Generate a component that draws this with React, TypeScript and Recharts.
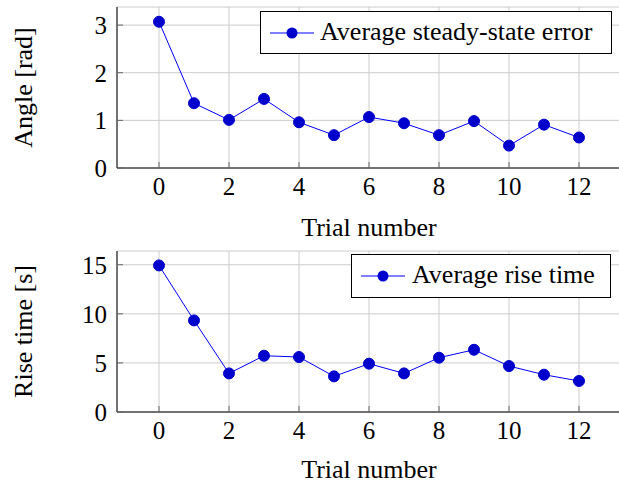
import { LineChart, Line, XAxis, YAxis, CartesianGrid, Legend } from 'recharts';

const trials = [0, 1, 2, 3, 4, 5, 6, 7, 8, 9, 10, 11, 12];
const steadyStateError = [3.07, 1.36, 1.01, 1.45, 0.96, 0.69, 1.07, 0.94, 0.69, 0.985, 0.47, 0.91, 0.64];
const riseTime = [14.93, 9.33, 3.93, 5.73, 5.6, 3.63, 4.92, 3.93, 5.53, 6.34, 4.68, 3.8, 3.16];

const xTicks = [0, 2, 4, 6, 8, 10, 12];
const errorTicks = [0, 1, 2, 3];
const riseTicks = [0, 5, 10, 15];

const errorData = trials.map((t, i) => ({ trial: t, value: steadyStateError[i] }));
const riseData = trials.map((t, i) => ({ trial: t, value: riseTime[i] }));

const SERIF = '"Liberation Serif", "Times New Roman", serif';
const tickStyle = { fontFamily: SERIF, fontSize: 25, fill: '#000' };
const labelStyle = { fontFamily: SERIF, fontSize: 26, fill: '#000' };
const tickLine = { stroke: '#666' };

function LegendBox({ payload, textLeft }: any) {
    const item = payload && payload[0];
    return (
        <div style={{
            boxSizing: 'border-box', width: '100%', height: '100%', border: '1px solid #000',
            background: '#fff', position: 'relative', fontFamily: SERIF, fontSize: 26, color: '#000',
        }}>
            <svg width={50} height={40} style={{ position: 'absolute', left: 4, top: 1 }}>
                <line x1={5} x2={49} y1={20} y2={20} stroke="#0000ff" strokeWidth={1} />
                <circle cx={27} cy={20} r={5.5} fill="#0000cc" />
            </svg>
            <span style={{ position: 'absolute', left: textLeft, top: 5, lineHeight: '30px', whiteSpace: 'nowrap' }}>
                {item ? item.value : ''}
            </span>
        </div>
    );
}

function Panel({ data, name, yLabel, yTicks, yMax, height, top, xLabelOffset, legendBox }: any) {
    return (
        <LineChart width={619} height={height} data={data}
            margin={{ top, right: -2, left: 0, bottom: 0 }}>
            <CartesianGrid stroke="#cccccc" />
            <XAxis dataKey="trial" type="number" domain={[-1.2, 13.2]} ticks={xTicks} allowDataOverflow
                height={height - top - 161} stroke="#000" tickLine={tickLine} tickSize={-6} tickMargin={15}
                tick={tickStyle}
                label={{ value: 'Trial number', position: 'insideBottom', offset: xLabelOffset, style: labelStyle }} />
            <XAxis xAxisId="top" orientation="top" dataKey="trial" type="number" domain={[-1.2, 13.2]}
                ticks={xTicks} allowDataOverflow height={0} stroke="#000" tickLine={tickLine} tickSize={-6}
                tickFormatter={() => ''} />
            <YAxis domain={[0, yMax]} ticks={yTicks} allowDataOverflow width={117} stroke="#000"
                tickLine={tickLine} tickSize={-6} tickMargin={16} tick={tickStyle}
                label={{ value: yLabel, angle: -90, position: 'center', dx: -35.5, style: labelStyle }} />
            <YAxis yAxisId="right" orientation="right" domain={[0, yMax]} ticks={yTicks} allowDataOverflow
                width={0} stroke="#000" tickLine={tickLine} tickSize={-6} tickFormatter={() => ''} />
            <Legend layout="vertical" align="center" verticalAlign="middle"
                wrapperStyle={{ ...legendBox }}
                content={(props: any) => <LegendBox {...props} textLeft={legendBox.textLeft} />} />
            <Line type="linear" dataKey="value" name={name} stroke="#0000ff" strokeWidth={1}
                dot={{ r: 5.5, fill: '#0000cc', stroke: '#0000cc', strokeWidth: 1 }} activeDot={false}
                isAnimationActive={false} />
        </LineChart>
    );
}

export default function App() {
    return (
        <div style={{ position: 'absolute', left: 0, top: 0, width: 619, height: 483, background: '#fff', overflow: 'hidden' }}>
            {/* top panel is a few px taller so the axis title's descent is not clipped */}
            <Panel data={errorData} name="Average steady-state error" yLabel="Angle [rad]" yTicks={errorTicks}
                yMax={3.38} height={246} top={7} xLabelOffset={10}
                legendBox={{ left: 260, top: 11, width: 352, height: 43, textLeft: 59 }} />
            <div style={{ marginTop: -6 }}>
                <Panel data={riseData} name="Average rise time" yLabel="Rise time [s]" yTicks={riseTicks}
                    yMax={16.4} height={243} top={11} xLabelOffset={5}
                    legendBox={{ left: 351, top: 14, width: 260, height: 44, textLeft: 60 }} />
            </div>
        </div>
    );
}
